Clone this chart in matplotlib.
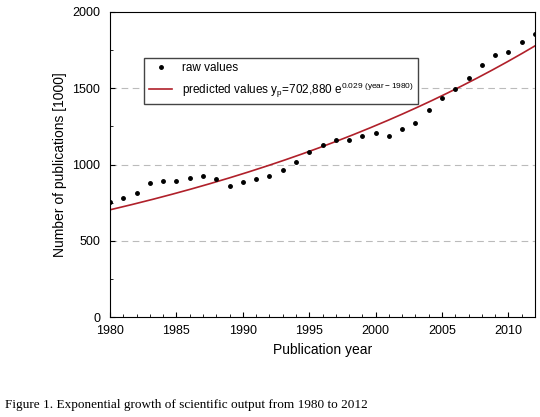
import numpy as np
import matplotlib
matplotlib.use("Agg")
import matplotlib.pyplot as plt

plt.rcParams['font.family'] = ['Liberation Sans', 'DejaVu Sans']
plt.rcParams['mathtext.fontset'] = 'custom'
plt.rcParams['mathtext.rm'] = 'Liberation Sans'

years = list(range(1980, 2013))
raw = [752, 778, 813, 876, 893, 893, 911, 924, 902, 859, 883, 902, 924, 965, 1015,
       1080, 1130, 1161, 1163, 1189, 1204, 1189, 1235, 1270, 1357, 1435, 1493, 1567,
       1652, 1715, 1737, 1802, 1857]
a, b = 702.880, 0.029

fig = plt.figure(figsize=(5.4, 4.17), dpi=100)
ax = fig.add_axes([110/540, 1-317/417, 425/540, 305/417])
xs = np.linspace(1980, 2012, 200)
ax.plot(xs, a*np.exp(b*(xs-1980)), color="#b0202a", lw=1.2,
        label=r"predicted values y$_\mathrm{p}$=702,880 e$^{0.029\ \mathrm{(year-1980)}}$")
ax.plot(years, raw, "k.", ms=5, label="raw values", zorder=3)
ax.set_xlim(1980, 2012)
ax.set_ylim(0, 2000)
ax.set_xticks(range(1980, 2011, 5))
ax.set_xticks(range(1980, 2013, 1), minor=True)
ax.set_yticks(range(0, 2001, 500))
ax.set_yticks(range(0, 2001, 250), minor=True)
for y in [500, 1000, 1500]:
    ax.axhline(y, color="#bbbbbb", ls=(0, (6, 4)), lw=0.8, zorder=0)
ax.tick_params(which="both", direction="in", labelsize=9)
ax.tick_params(axis="y", pad=7)
ax.tick_params(axis="x", pad=6)
ax.set_xlabel("Publication year", fontsize=10)
ax.set_ylabel("Number of publications [1000]", fontsize=10)
h, l = ax.get_legend_handles_labels()
ax.legend(h[::-1], l[::-1], loc="upper left", bbox_to_anchor=(0.08, 0.85), fancybox=False,
          edgecolor="#444444", fontsize=8.5, framealpha=1, borderaxespad=0)
fig.text(5/540, 1-405/417, "Figure 1. Exponential growth of scientific output from 1980 to 2012",
         family="Liberation Serif", fontsize=9.5, va="center")
fig.savefig("out.png", dpi=100)
